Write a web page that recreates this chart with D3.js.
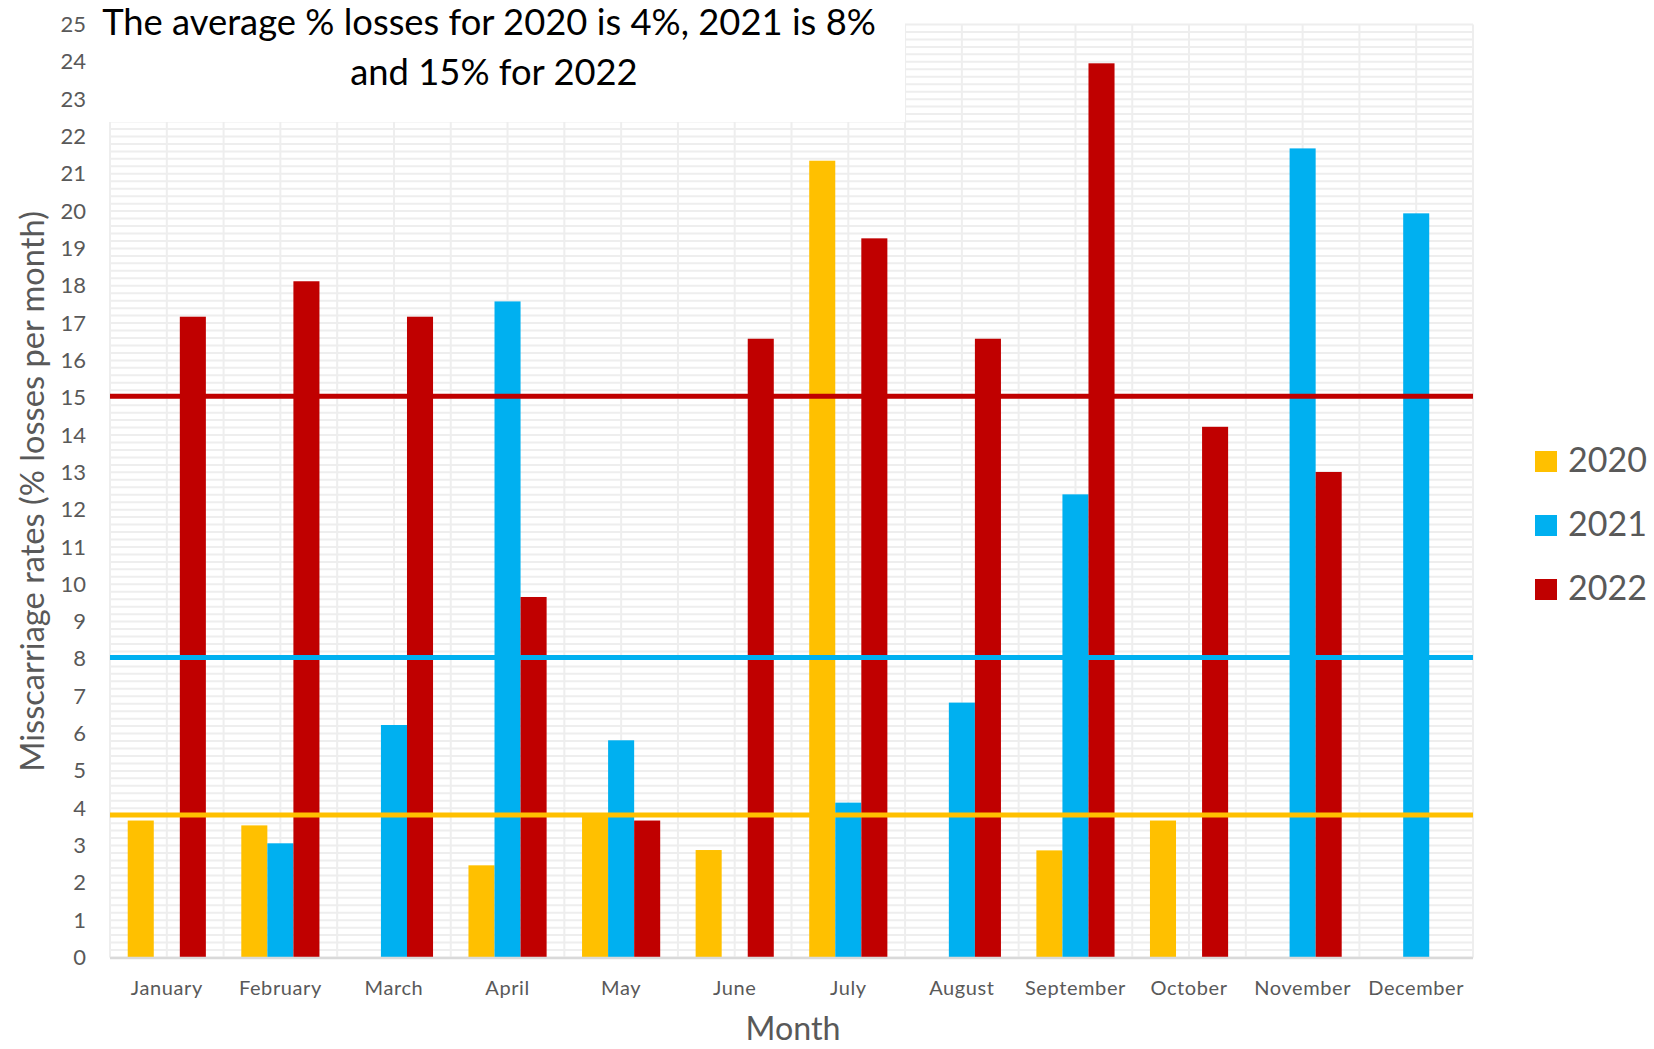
<!DOCTYPE html>
<html><head><meta charset="utf-8">
<script src="https://cdn.jsdelivr.net/npm/d3@7"></script>
<style>
body{margin:0;background:#fff}
svg{display:block}
text{font-family:Lato, "Open Sans", sans-serif}
</style>
</head><body>
<svg id="chart" width="1654" height="1049"></svg>
<script>
// ---- data ----
const months = ["January","February","March","April","May","June","July","August","September","October","November","December"];
const series = ["2020","2021","2022"];
const values2020 = [3.67, 3.54, 0, 2.47, 3.85, 2.88, 21.35, 0, 2.87, 3.67, 0, 0];
const values2021 = [0, 3.06, 6.23, 17.58, 5.82, 0, 4.15, 6.83, 12.41, 0, 21.68, 19.94];
const values2022 = [17.17, 18.12, 17.17, 9.66, 3.67, 16.58, 19.27, 16.58, 23.96, 14.22, 13.01, 0];
const averages = [3.82, 8.04, 15.04];
const yTicks = d3.range(0, 26);
const titleLines = ["The average % losses for 2020 is 4%, 2021 is 8%", "and 15% for 2022"];
const yTitle = "Misscarriage rates (% losses per month)";
const xTitle = "Month";
const colors = ["#FFC000", "#00B0F0", "#C00000"];

const seriesValues = [values2020, values2021, values2022];

(function () {
// ---- layout ----
const svg = d3.select("#chart");
const plotLeft = 110, plotRight = 1473, plotBottom = 957.5, plotTop = 24.5;
const textGray = "#595959";

const x0 = d3.scaleBand().domain(months).range([plotLeft, plotRight]).padding(0);
const x1 = d3.scaleBand().domain(series).range([0, x0.bandwidth()]).paddingInner(0).paddingOuter(0.68);
const y = d3.scaleLinear().domain([0, 25]).range([plotBottom, plotTop]);

function fit(sel, w) {
  const cur = parseFloat(sel.attr("font-size"));
  const len = sel.node().getComputedTextLength();
  if (len > 0) sel.attr("font-size", cur * w / len);
}

// ---- gridlines ----
const grid = svg.append("g").attr("stroke", "#eeeeee").attr("stroke-width", 2);
const minor = d3.range(0, 126).map(d => d / 5);
grid.selectAll("line.h").data(minor).join("line")
  .attr("x1", plotLeft).attr("x2", plotRight)
  .attr("y1", d => y(d)).attr("y2", d => y(d));
const halfSteps = d3.range(0, months.length * 2 + 1);
grid.selectAll("line.v").data(halfSteps).join("line")
  .attr("x1", d => plotLeft + d * x0.bandwidth() / 2).attr("x2", d => plotLeft + d * x0.bandwidth() / 2)
  .attr("y1", y(0)).attr("y2", y(25));

// ---- bars ----
const barData = [];
months.forEach((m, i) => series.forEach((s, j) => barData.push({month: m, series: s, j, value: seriesValues[j][i]})));
svg.append("g").selectAll("rect").data(barData.filter(d => d.value > 0)).join("rect")
  .attr("x", d => x0(d.month) + x1(d.series))
  .attr("width", x1.bandwidth())
  .attr("y", d => y(d.value))
  .attr("height", d => y(0) - y(d.value))
  .attr("fill", d => colors[d.j]);

// ---- axis baseline ----
svg.append("line").attr("x1", plotLeft).attr("x2", plotRight).attr("y1", y(0) + 0.5).attr("y2", y(0) + 0.5)
  .attr("stroke", "#d9d9d9").attr("stroke-width", 2.5);

// ---- average lines ----
svg.append("g").selectAll("line").data(averages).join("line")
  .attr("x1", plotLeft).attr("x2", plotRight)
  .attr("y1", d => y(d)).attr("y2", d => y(d))
  .attr("stroke", (d, i) => colors[i]).attr("stroke-width", 5);

// ---- title box ----
svg.append("rect").attr("x", plotLeft - 2).attr("y", 0).attr("width", 905 - plotLeft + 2).attr("height", 122).attr("fill", "#fff");
const t1 = svg.append("text").attr("x", 489).attr("y", 35).attr("text-anchor", "middle")
  .attr("font-size", 34).attr("fill", "#000").text(titleLines[0]);
fit(t1, 774);
const fs = t1.attr("font-size");
svg.append("text").attr("x", 494).attr("y", 85).attr("text-anchor", "middle")
  .attr("font-size", fs).attr("fill", "#000").text(titleLines[1]);

// ---- y axis ----
const yAxis = svg.append("g").attr("transform", `translate(${plotLeft},0)`)
  .call(d3.axisLeft(y).tickValues(yTicks).tickSize(0).tickPadding(24).tickFormat(d3.format("d")));
yAxis.select(".domain").remove();
yAxis.selectAll("text").attr("font-size", 22).attr("fill", textGray).attr("font-family", "Lato, sans-serif");

// ---- x axis ----
const xAxis = svg.append("g").attr("transform", `translate(0,${plotBottom})`)
  .call(d3.axisBottom(x0).tickSize(0));
xAxis.select(".domain").remove();
xAxis.selectAll("text").attr("y", 37).attr("dy", null)
  .attr("font-size", 20).attr("fill", textGray).attr("font-family", "Lato, sans-serif")
  .attr("letter-spacing", 0.6);

// ---- axis titles ----
const yt = svg.append("text").attr("transform", "translate(44,491.5) rotate(-90)")
  .attr("text-anchor", "middle").attr("font-size", 32).attr("fill", textGray).text(yTitle);
fit(yt, 561);
const xt = svg.append("text").attr("x", 793).attr("y", 1040).attr("text-anchor", "middle")
  .attr("font-size", 32).attr("fill", textGray).text(xTitle);
fit(xt, 95);

// ---- legend ----
const legendBase = [472, 536, 600];
const lg = svg.append("g").selectAll("g").data(series).join("g");
lg.append("rect").attr("x", 1535).attr("y", (d, i) => legendBase[i] - 21).attr("width", 22).attr("height", 21)
  .attr("fill", (d, i) => colors[i]);
lg.append("text").attr("x", 1568).attr("y", (d, i) => legendBase[i])
  .attr("font-size", 34).attr("fill", textGray).text(d => d);
})();
</script>
</body></html>
